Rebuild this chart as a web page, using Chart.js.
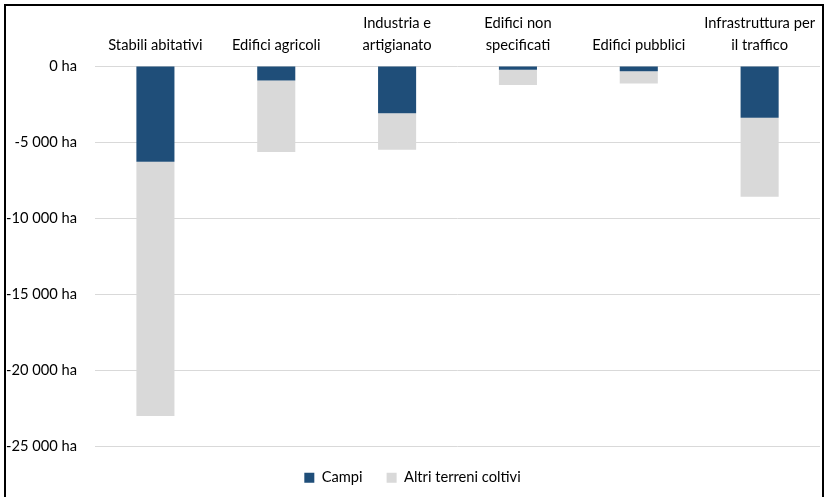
<!DOCTYPE html>
<html>
<head>
<meta charset="utf-8">
<script src="https://cdn.jsdelivr.net/npm/chart.js@4"></script>
<style>
  html, body { margin: 0; padding: 0; background: #ffffff; }
  #wrap { position: relative; width: 825px; height: 497px; overflow: hidden; }
  #frame {
    position: absolute; left: 4px; top: 4px; width: 816px; height: 520px;
    border: 2px solid #000000; box-sizing: content-box; pointer-events: none;
  }
  canvas { position: absolute; left: 0; top: 0; }
</style>
</head>
<body>
<div id="wrap">
  <canvas id="chart" width="825" height="497"></canvas>
  <div id="frame"></div>
</div>
<script>
// Land consumed by building type, in hectares (losses are negative)
const categories = [
  'Stabili abitativi',
  'Edifici agricoli',
  ['Industria e', 'artigianato'],
  ['Edifici non', 'specificati'],
  'Edifici pubblici',
  ['Infrastruttura per', 'il traffico']
];
const campi = [-6300, -950, -3100, -250, -350, -3400];
const altriTerreni = [-16700, -4700, -2400, -1000, -800, -5200];
const yTicks = [0, -5000, -10000, -15000, -20000, -25000];

const FONT = { family: 'Lato, "Liberation Sans", sans-serif', size: 14.7 };

function formatHa(v) {
  const s = Math.abs(v).toString().replace(/\B(?=(\d{3})+(?!\d))/g, ' ');
  return (v < 0 ? '-' : '') + s + ' ha';
}

new Chart(document.getElementById('chart'), {
  type: 'bar',
  data: {
    labels: categories,
    datasets: [
      { label: 'Campi', data: campi, backgroundColor: '#1F4E79' },
      { label: 'Altri terreni coltivi', data: altriTerreni, backgroundColor: '#D9D9D9' }
    ]
  },
  options: {
    responsive: false,
    animation: false,
    devicePixelRatio: 1,
    layout: { padding: { left: 0, right: 0, top: 6, bottom: 2 } },
    datasets: { bar: { categoryPercentage: 1, barPercentage: 0.315 } },
    scales: {
      x: {
        position: 'top',
        stacked: true,
        grid: { display: false, drawTicks: false },
        border: { display: false },
        ticks: {
          color: '#000000',
          font: { ...FONT, lineHeight: 1.5 },
          padding: 10,
          maxRotation: 0,
          autoSkip: false
        },
        afterFit(scale) { scale.height = 60; }
      },
      y: {
        stacked: true,
        min: -25000,
        max: 0,
        afterBuildTicks(scale) { scale.ticks = yTicks.map(v => ({ value: v })); },
        grid: { color: '#D9D9D9', lineWidth: 1, drawTicks: false },
        border: { display: false },
        ticks: {
          color: '#000000',
          font: FONT,
          padding: 18,
          callback: v => formatHa(v)
        },
        afterFit(scale) { scale.width = 95; }
      }
    },
    plugins: {
      legend: {
        position: 'bottom',
        labels: {
          color: '#000000',
          font: FONT,
          boxWidth: 10,
          boxHeight: 10,
          padding: 24
        }
      },
      tooltip: { enabled: false }
    }
  }
});
</script>
</body>
</html>
